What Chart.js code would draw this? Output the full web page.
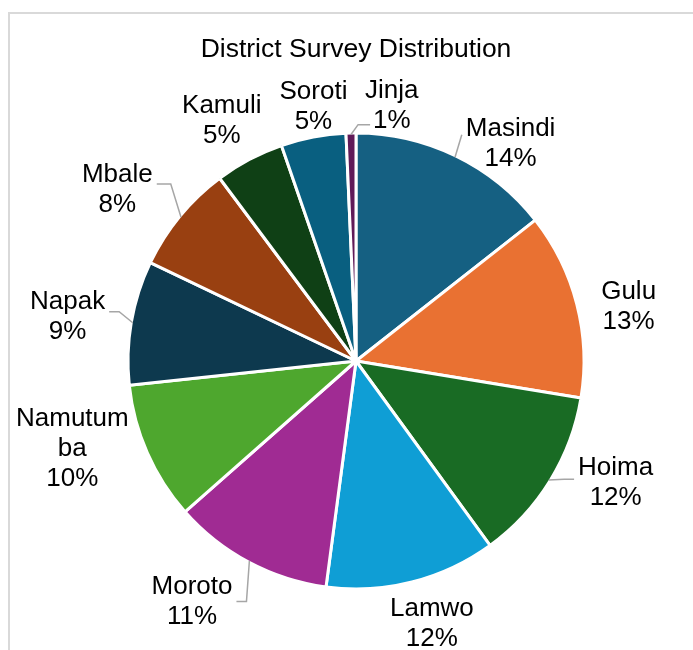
<!DOCTYPE html>
<html><head><meta charset="utf-8">
<script src="https://cdn.jsdelivr.net/npm/chart.js@4"></script>
<style>
html,body{margin:0;padding:0;background:#fff;}
#wrap{position:relative;width:693px;height:650px;overflow:hidden;}
#frame{position:absolute;left:8px;top:12px;width:800px;height:800px;border:2px solid #d9d9d9;box-sizing:border-box;}
canvas{position:absolute;left:0;top:0;}
</style></head><body>
<div id="wrap"><div id="frame"></div><canvas id="c" width="693" height="650"></canvas></div>
<script>
// ---- data ----
const districts = ["Masindi","Gulu","Hoima","Lamwo","Moroto","Namutumba","Napak","Mbale","Kamuli","Soroti","Jinja"];
const shares = [14.4, 13.2, 12.4, 12.1, 11.4, 9.8, 8.8, 7.7, 4.9, 4.6, 0.7];
const labelLines = [["Masindi"],["Gulu"],["Hoima"],["Lamwo"],["Moroto"],["Namutum","ba"],["Napak"],["Mbale"],["Kamuli"],["Soroti"],["Jinja"]];
const chartTitle = "District Survey Distribution";

// ---- styles / layout ----
const sliceColors = ["#156082","#E97132","#196B24","#0F9ED5","#A02B93","#4EA72E","#0D394E","#994011","#0F4015","#095F80","#601A58"];
const labelNudge = [[32,35],[1,16],[21,-25],[7,-9],[-32,-7],[-27,-25],[-12,3],[-22,7],[-3,8],[10,21],[42,25]];
// leader lines: null = none, otherwise [attachDx, attachDy, elbowLength]
const leaders = [[0,-9,0],null,[0,-4,10],null,[0,0,10],null,[0,-5,10],[0,-6,14],null,null,[9,19,12]];
const FONT = "'Liberation Sans', Arial, sans-serif";
const LABEL_SIZE = 26;
const LINE_H = 30;

const labelPlugin = {
  id: 'pieLabels',
  afterDatasetsDraw(chart) {
    const ctx = chart.ctx;
    const meta = chart.getDatasetMeta(0);
    const data = chart.data.datasets[0].data;
    const total = data.reduce((a, b) => a + b, 0);
    ctx.save();
    ctx.font = LABEL_SIZE + "px " + FONT;
    ctx.textAlign = 'center';
    ctx.textBaseline = 'middle';
    meta.data.forEach((arc, i) => {
      const p = arc.getProps(['x','y','startAngle','endAngle','outerRadius'], true);
      const mid = (p.startAngle + p.endAngle) / 2;
      const rl = p.outerRadius * 1.23;
      const lx = p.x + Math.cos(mid) * rl + labelNudge[i][0];
      const ly = p.y + Math.sin(mid) * rl + labelNudge[i][1];
      const lines = labelLines[i].concat([Math.round(data[i] / total * 100) + "%"]);
      let w = 0;
      lines.forEach(t => { w = Math.max(w, ctx.measureText(t).width); });
      const ld = leaders[i];
      if (ld) {
        const r = p.outerRadius - 1.5;
        const sx = p.x + Math.cos(mid) * r, sy = p.y + Math.sin(mid) * r;
        const right = lx > p.x;
        const ex = (right ? lx - w / 2 - 4 : lx + w / 2 + 4) + ld[0];
        const ey = ly + ld[1];
        const elx = right ? ex - ld[2] : ex + ld[2];
        ctx.beginPath();
        ctx.strokeStyle = '#a6a6a6';
        ctx.lineWidth = 1.5;
        ctx.moveTo(sx, sy);
        ctx.lineTo(elx, ey);
        ctx.lineTo(ex, ey);
        ctx.stroke();
      }
      ctx.fillStyle = '#000';
      const y0 = ly - (lines.length - 1) * LINE_H / 2;
      lines.forEach((t, k) => ctx.fillText(t, lx, y0 + k * LINE_H));
    });
    ctx.restore();
  }
};

new Chart(document.getElementById('c'), {
  type: 'pie',
  data: {
    labels: districts,
    datasets: [{
      data: shares,
      backgroundColor: sliceColors,
      borderColor: '#ffffff',
      borderWidth: 3,
      hoverOffset: 0,
      radius: 228
    }]
  },
  options: {
    responsive: false,
    animation: false,
    events: [],
    radius: 228,
    layout: { padding: { left: 19, right: 0, top: 34, bottom: 0 } },
    plugins: {
      legend: { display: false },
      tooltip: { enabled: false },
      title: {
        display: true,
        text: chartTitle,
        color: '#000',
        font: { family: FONT, size: 26.5, weight: 'normal', lineHeight: 1.2 },
        padding: { top: 0, bottom: 6.2 }
      }
    }
  },
  plugins: [labelPlugin]
});
</script>
</body></html>
